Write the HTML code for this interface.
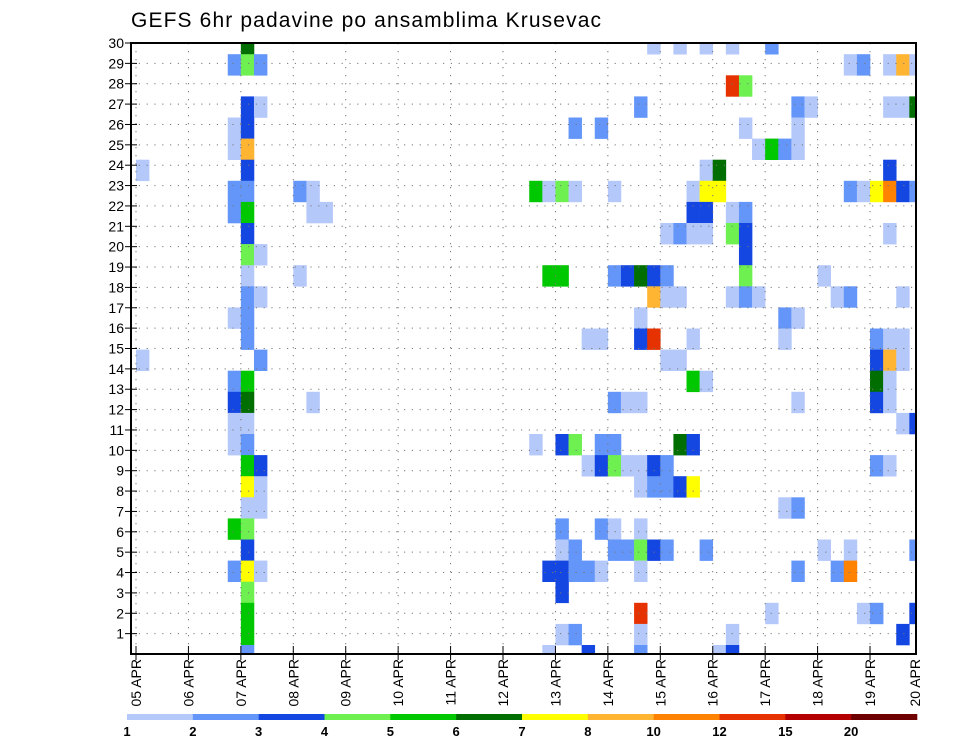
<!DOCTYPE html>
<html><head><meta charset="utf-8"><style>
html,body{margin:0;padding:0;background:#fff;}
svg{display:block;font-family:"Liberation Sans",sans-serif;}
</style></head><body>
<svg id="chart" width="960" height="742" viewBox="0 0 960 742" xmlns="http://www.w3.org/2000/svg">
<text x="131" y="27" font-size="21" textLength="470" lengthAdjust="spacing" fill="#000">GEFS 6hr padavine po ansamblima Krusevac</text>
<g id="cells"></g>
<g id="grid"></g>
<g id="axes"></g>
<g id="legend"></g>
</svg>
<script>
// ---- data ----
const dayLabels = ["05 APR","06 APR","07 APR","08 APR","09 APR","10 APR","11 APR","12 APR","13 APR","14 APR","15 APR","16 APR","17 APR","18 APR","19 APR","20 APR"];
const memberLabels = [1,2,3,4,5,6,7,8,9,10,11,12,13,14,15,16,17,18,19,20,21,22,23,24,25,26,27,28,29,30];
const levelLabels = ["1","2","3","4","5","6","7","8","10","12","15","20"];
const levelColors = ["#b4c8fa","#6496fa","#1446e1","#6ef050","#00c800","#006e00","#ffff00","#ffb432","#ff8200","#e63200","#b40000","#6e0000"];
// cells: 6h time step index, member row index (0 = bottom), precipitation level value
const cellTimes = [
8,39,41,43,45,48,
7,8,9,54,55,57,58,59,
45,46,
8,9,38,50,51,57,58,59,
7,8,33,35,46,50,
7,8,47,48,49,50,
0,8,43,44,57,
7,8,12,13,30,31,32,33,36,42,43,44,54,55,56,57,58,59,
7,8,13,14,42,43,45,46,
8,40,41,42,43,45,46,57,
8,9,46,
8,12,31,32,36,37,38,39,40,46,52,
8,9,39,40,41,45,46,47,53,54,58,
7,8,38,49,50,
8,34,35,38,39,42,49,56,57,58,
0,9,40,41,56,57,58,
7,8,42,43,56,57,
7,8,13,36,37,38,50,56,57,
7,8,58,59,
7,8,30,32,33,35,36,41,42,
8,9,34,35,36,37,38,39,40,56,57,
8,9,38,39,40,41,42,
8,9,49,50,
7,8,32,35,36,38,
8,32,33,36,37,38,39,40,43,52,54,59,
7,8,9,31,32,33,34,35,38,50,53,54,
8,32,
8,38,48,55,56,59,
8,32,33,38,45,58,
8,31,34,38,44,45];
const cellRows = [
29,29,29,29,29,29,
28,28,28,28,28,28,28,28,
27,27,
26,26,26,26,26,26,26,26,
25,25,25,25,25,25,
24,24,24,24,24,24,
23,23,23,23,23,
22,22,22,22,22,22,22,22,22,22,22,22,22,22,22,22,22,22,
21,21,21,21,21,21,21,21,
20,20,20,20,20,20,20,20,
19,19,19,
18,18,18,18,18,18,18,18,18,18,18,
17,17,17,17,17,17,17,17,17,17,17,
16,16,16,16,16,
15,15,15,15,15,15,15,15,15,15,
14,14,14,14,14,14,14,
13,13,13,13,13,13,
12,12,12,12,12,12,12,12,12,
11,11,11,11,
10,10,10,10,10,10,10,10,10,
9,9,9,9,9,9,9,9,9,9,9,
8,8,8,8,8,8,8,
7,7,7,7,
6,6,6,6,6,6,
5,5,5,5,5,5,5,5,5,5,5,5,
4,4,4,4,4,4,4,4,4,4,4,4,
3,3,
2,2,2,2,2,2,
1,1,1,1,1,1,
0,0,0,0,0,0];
const cellValues = [
6,1,1,1,1,2,
2,4,2,1,2,1,8,1,
12,4,
3,1,2,2,1,1,1,6,
1,3,2,2,1,1,
1,8,1,5,2,1,
1,3,1,6,3,
2,2,2,1,5,1,4,1,1,1,7,7,2,1,7,10,3,2,
2,5,1,1,3,3,1,2,
3,1,2,1,1,4,3,1,
4,1,3,
1,1,5,5,2,3,6,3,2,4,1,
2,1,8,1,1,1,2,1,1,2,1,
1,2,1,2,1,
2,1,1,3,12,1,1,2,1,1,
1,2,1,1,3,8,1,
2,5,5,1,6,1,
3,6,1,2,1,1,1,3,1,
1,1,1,3,
1,2,1,3,4,2,2,6,3,
5,3,1,3,4,1,1,3,2,2,1,
7,1,1,2,2,3,7,
1,1,1,2,
5,4,2,2,1,1,
3,1,2,2,2,4,3,2,2,1,1,2,
2,7,1,3,3,2,2,1,1,2,2,10,
4,3,
5,12,1,1,2,3,
5,1,2,1,1,3,
2,1,3,2,1,3];

// ---- scales ----
const NS = "http://www.w3.org/2000/svg";
const plotL = 131, plotR = 916, plotT = 43, plotB = 654;
const x0 = 136, dayW = 52.43, stepW = dayW / 4;
const rowH = 21.1, rowBase = 645;
function xDay(d){ return x0 + d * dayW; }
function xStep(t){ return x0 + t * stepW; }
function yRowTop(r){ return rowBase - r * rowH; }
function yLabel(k){ return plotB - k * (plotB - plotT) / 30; }
function colorFor(v){
  let idx = levelLabels.indexOf(String(v));
  if (idx < 0) { idx = 0; for (let i = 0; i < levelLabels.length; i++) if (v >= Number(levelLabels[i])) idx = i; }
  return levelColors[idx];
}
function mk(tag, attrs, parent){ const e = document.createElementNS(NS, tag); for (const k in attrs) e.setAttribute(k, attrs[k]); parent.appendChild(e); return e; }

const defs = mk("defs", {}, document.getElementById("chart"));
const cp = mk("clipPath", {id:"pc"}, defs);
mk("rect", {x:plotL, y:plotT, width:plotR-plotL, height:plotB-plotT}, cp);

// ---- cells ----
const gc = document.getElementById("cells");
gc.setAttribute("clip-path", "url(#pc)");
const nCells = Math.min(cellTimes.length, cellRows.length, cellValues.length);
for (let i = 0; i < nCells; i++) {
  const r = mk("rect", {x: xStep(cellTimes[i]).toFixed(2), y: yRowTop(cellRows[i]).toFixed(2), width: (stepW+0.3).toFixed(2), height: (rowH+0.3).toFixed(2), fill: colorFor(cellValues[i])}, gc);
  
  
}

// ---- grid ----
const gg = document.getElementById("grid");
for (let k = 1; k < memberLabels.length; k++) {
  const y = yLabel(k);
  const l = mk("line", {x1:plotL, x2:plotR, y1:y, y2:y, stroke:"#777", "stroke-width":1, "stroke-dasharray":"1.2 6.6"}, gg);
  
  
}
for (let d = 0; d < dayLabels.length - 1; d++) {
  const x = xDay(d);
  const l = mk("line", {x1:x, x2:x, y1:plotT, y2:plotB, stroke:"#777", "stroke-width":1, "stroke-dasharray":"1.2 6.8"}, gg);
  
  
}

// ---- axes ----
const ga = document.getElementById("axes");
const frame = mk("rect", {x:plotL, y:plotT, width:plotR-plotL, height:plotB-plotT, fill:"none", stroke:"#000", "stroke-width":2}, ga);


for (let k = 0; k < memberLabels.length; k++) {
  const y = yLabel(k+1);
  const t = mk("line", {x1:plotL-6, x2:plotL+6, y1:y, y2:y, stroke:"#000", "stroke-width":1}, ga);
  
  
  const tx = mk("text", {x:124, y:y+5, "font-size":14, "text-anchor":"end", fill:"#000"}, ga);
  tx.textContent = memberLabels[k];
  
  
}
for (let d = 0; d < dayLabels.length; d++) {
  const x = xDay(d);
  if (x <= plotR) {
    const t = mk("line", {x1:x, x2:x, y1:plotB-8, y2:plotB+6, stroke:"#000", "stroke-width":1}, ga);
    
    
  }
  const lx = Math.min(x, 915) + 5;
  const tx = mk("text", {transform:"translate(" + lx.toFixed(1) + ",659) rotate(-90)", "font-size":14, "text-anchor":"end", fill:"#000"}, ga);
  tx.textContent = dayLabels[d];
  
  
}

// ---- legend ----
const gl = document.getElementById("legend");
const lgL = 127, lgR = 917, segW = (lgR - lgL) / levelColors.length;
for (let i = 0; i < levelColors.length; i++) {
  const r = mk("rect", {x:(lgL + i*segW).toFixed(2), y:714, width:(segW+0.3).toFixed(2), height:6, fill:levelColors[i]}, gl);
  
  
  const t = mk("text", {x:(lgL + i*segW).toFixed(2), y:736, "font-size":13, "font-weight":"bold", "text-anchor":"middle", fill:"#000"}, gl);
  t.textContent = levelLabels[i];
  
  
}
</script>
</body></html>
